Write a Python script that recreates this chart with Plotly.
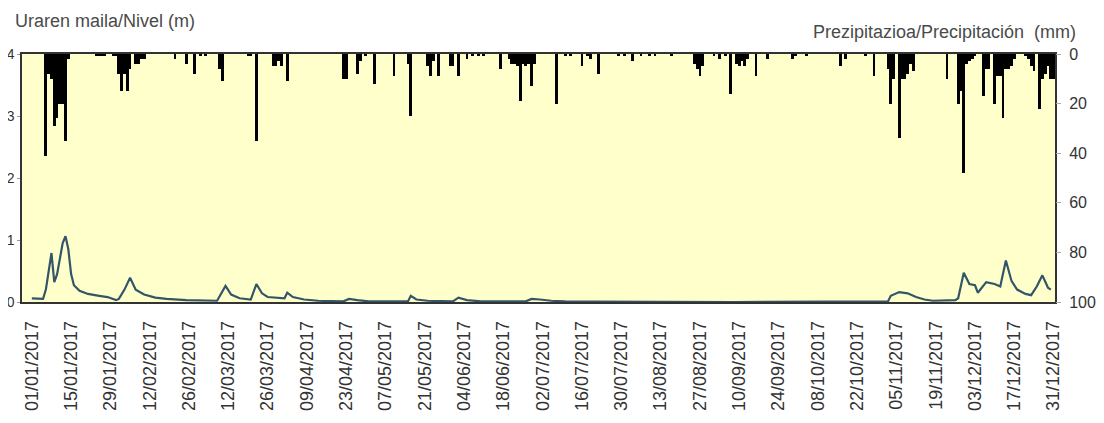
import pandas as pd
import plotly.graph_objects as go

# ---------------- data ----------------
year_start = "2017-01-01"

# daily precipitation (mm): day-of-year index (0 = 01/01/2017) and amount
rain_day = [5, 6, 7, 8, 9, 10, 11, 12, 13,
            23, 24, 25, 26, 29, 30, 31, 32, 33, 34, 35, 37, 38, 39, 40,
            51, 55, 58, 60, 62, 67, 68, 77, 78, 80, 86, 87, 88, 89, 91,
            111, 112, 116, 117, 119, 122, 129, 134, 135, 141, 142, 143, 145,
            149, 150, 152, 155, 157, 159, 161, 167, 170, 171, 172, 173, 174,
            175, 176, 177, 178, 179, 187, 190, 192, 196, 198, 199, 202, 209,
            211, 214, 217, 220, 222, 228, 236, 237, 238, 239, 243, 245, 247,
            249, 251, 252, 253, 254, 255, 258, 262, 271, 272, 276, 288, 290,
            297, 300, 305, 306, 307, 309, 310, 311, 312, 313, 314, 326, 330,
            331, 332, 333, 334, 335, 336, 339, 340, 341, 343, 344, 345, 346,
            347, 348, 349, 350, 354, 355, 356, 357, 359, 360, 361, 362, 363, 364]
rain_mm = [41, 8, 10, 29, 26, 20, 20, 35, 2,
           0.6, 0.6, 0.6, 0.6, 1, 1, 8, 15, 8, 15, 6, 4, 4, 2, 2,
           2, 4, 8, 1, 1, 6, 11, 1, 1, 35, 5, 5, 3, 5, 11,
           10, 10, 8, 3, 1, 12, 9, 4, 25, 5, 9, 3, 9,
           5, 5, 9, 2, 1, 1, 1, 6, 2, 4, 4, 5, 19,
           4, 5, 4, 13, 4, 20, 1, 1, 5, 1, 2, 8, 1,
           1, 3, 1, 1, 0.6, 1, 4, 6, 9, 5, 1, 2, 1,
           16, 4, 5, 3, 5, 2, 9, 2, 2, 1, 1, 5, 2,
           1, 9, 6, 20, 10, 34, 10, 10, 8, 4, 7, 10, 20,
           15, 48, 4, 3, 2, 1, 17, 6, 6, 20, 9, 9, 26,
           6, 6, 5, 2, 1, 2, 5, 7, 22, 10, 8, 5, 10, 10]

# water level (m): day-of-year index and level
level_day = [0, 4, 5, 7, 8, 9, 10, 11, 12, 13, 14, 15, 17, 20, 24, 27, 30, 31,
             33, 35, 37, 40, 44, 48, 55, 62, 66, 69, 71, 74, 78, 80, 82, 84,
             88, 90, 91, 93, 97, 102, 111, 113, 116, 120, 134, 135, 137, 141,
             150, 152, 155, 160, 176, 178, 181, 185, 190, 200, 250, 300, 305,
             306, 309, 312, 315, 318, 321, 329, 330, 332, 334, 336, 337, 340,
             343, 345, 347, 349, 351, 354, 356, 358, 360, 361, 362, 363]
level_m = [0.06, 0.05, 0.2, 0.79, 0.32, 0.45, 0.7, 0.95, 1.06, 0.85, 0.45, 0.27,
           0.18, 0.13, 0.1, 0.08, 0.03, 0.05, 0.2, 0.39, 0.2, 0.12, 0.07, 0.05,
           0.03, 0.02, 0.02, 0.26, 0.12, 0.06, 0.04, 0.29, 0.14, 0.08, 0.06,
           0.06, 0.15, 0.08, 0.04, 0.02, 0.01, 0.05, 0.03, 0.01, 0.01, 0.1,
           0.04, 0.02, 0.01, 0.07, 0.03, 0.01, 0.01, 0.05, 0.04, 0.02, 0.01,
           0.005, 0.0, 0.0, 0.01, 0.1, 0.16, 0.14, 0.08, 0.04, 0.02, 0.03,
           0.06, 0.47, 0.29, 0.27, 0.15, 0.32, 0.29, 0.25, 0.67, 0.34, 0.2,
           0.13, 0.11, 0.25, 0.43, 0.33, 0.23, 0.2]

tick_dates = pd.date_range("2017-01-01", "2017-12-31", freq="14D")

left_title = "Uraren maila/Nivel (m)"
right_title = "Prezipitazioa/Precipitación\u00a0 (mm)"

# ---------------- figure ----------------
t0 = pd.Timestamp(year_start)
rain_x = [t0 + pd.Timedelta(days=d) for d in rain_day]
level_x = [t0 + pd.Timedelta(days=d) for d in level_day]

fig = go.Figure()
fig.add_trace(go.Bar(
    x=rain_x, y=rain_mm, yaxis="y2",
    marker=dict(color="#000000", line=dict(width=0)),
    width=1.0 * 86400000, showlegend=False,
))
fig.add_trace(go.Scatter(
    x=level_x, y=level_m, mode="lines",
    line=dict(color="#33556a", width=2.2),
    showlegend=False,
))

font_family = "Arial, Liberation Sans, sans-serif"
# the page body adds an 8px offset, so the figure is sized to fit the window
fig.update_layout(
    width=1096, height=415,
    margin=dict(l=14, r=49, t=46, b=119),
    paper_bgcolor="#ffffff",
    plot_bgcolor="#FFFFCC",
    font=dict(family=font_family, color="#333333"),
    bargap=0,
    xaxis=dict(
        type="date",
        range=["2016-12-28 12:00", "2017-12-31 12:00"],
        tickvals=tick_dates, tickformat="%d/%m/%Y", tickangle=-90,
        tickfont=dict(size=18, color="#333333"),
        ticklabelstandoff=10,
        showline=True, linecolor="#333333", linewidth=1.5, mirror=True,
        ticks="", showgrid=False, zeroline=False,
    ),
    yaxis=dict(
        range=[0, 4], tickvals=[0, 1, 2, 3, 4],
        tickfont=dict(size=14, color="#333333"),
        ticks="outside", ticklen=3, tickcolor="#999999",
        ticklabelstandoff=0,
        showline=True, linecolor="#333333", linewidth=1.5, mirror=True,
        showgrid=False, zeroline=False, automargin=False,
    ),
    yaxis2=dict(
        overlaying="y", side="right",
        range=[100, 0], tickvals=[0, 20, 40, 60, 80, 100],
        tickfont=dict(size=16, color="#333333"),
        ticks="outside", ticklen=5, tickcolor="#aaaaaa",
        ticklabelstandoff=5,
        showline=False, showgrid=False, zeroline=False, automargin=False,
    ),
    annotations=[
        dict(text=left_title, xref="paper", yref="paper", x=-0.009, y=1.132,
             xanchor="left", yanchor="middle", showarrow=False,
             font=dict(size=18, color="#4a4a4a", family=font_family)),
        dict(text=right_title, xref="paper", yref="paper", x=1.022, y=1.088,
             xanchor="right", yanchor="middle", showarrow=False,
             font=dict(size=18, color="#4a4a4a", family=font_family)),
    ],
)

fig.write_html("out.html")
